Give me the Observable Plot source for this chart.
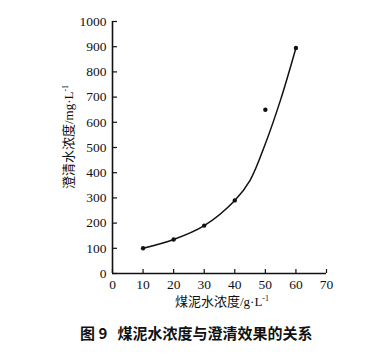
<!DOCTYPE html>
<html><head><meta charset="utf-8">
<script src="https://cdn.jsdelivr.net/npm/d3@7"></script>
<script src="https://cdn.jsdelivr.net/npm/@observablehq/plot@0.6"></script>
<style>
body{margin:0;background:#fff;}
#cap{font-family:"Noto Sans CJK SC",sans-serif;font-weight:bold;font-size:15px;position:absolute;left:80px;top:322px;white-space:pre;color:#111;}
</style></head><body>
<div id="chart"></div>
<div id="cap">图 9   煤泥水浓度与澄清效果的关系</div>
<script>
const xPoints = [10, 20, 30, 40, 50, 60];
const yPoints = [100, 135, 190, 290, 650, 895];
const xCurve = [10, 20, 30, 40, 45, 50, 55, 60];
const yCurve = [100, 135, 190, 290, 370, 515, 690, 895];
const xTicks = [0, 10, 20, 30, 40, 50, 60, 70];
const yTicks = [0, 100, 200, 300, 400, 500, 600, 700, 800, 900, 1000];

const pts = xPoints.map((x, i) => ({x, y: yPoints[i]}));
const curve = xCurve.map((x, i) => ({x, y: yCurve[i]}));

const font = '"Liberation Serif","Noto Sans CJK SC",serif';
const plot = Plot.plot({
  width: 390, height: 315,
  marginLeft: 112, marginRight: 64, marginTop: 21, marginBottom: 42,
  style: {fontFamily: font, fontSize: "13.5px", color: "#111", background: "#fff"},
  x: {domain: [0, 70]},
  y: {domain: [0, 1000]},
  marks: [
    Plot.axisX({ticks: xTicks, tickFormat: "d", tickSize: -4, tickPadding: 10, label: null, stroke: "#111", strokeWidth: 1.2}),
    Plot.axisY({ticks: yTicks, tickFormat: "d", tickSize: -5, tickPadding: 11, label: null, stroke: "#111", strokeWidth: 1.2}),
    Plot.ruleX([0], {stroke: "#111", strokeWidth: 1.6}),
    Plot.ruleY([0], {stroke: "#111", strokeWidth: 1.6}),
    Plot.line(curve, {x: "x", y: "y", curve: "catmull-rom", stroke: "#111", strokeWidth: 1.5}),
    Plot.dot(pts, {x: "x", y: "y", r: 2.2, fill: "#111", stroke: "none"})
  ]
});
const svg = d3.select(plot);
svg.append("text")
  .attr("transform", "translate(73,137) rotate(-90)")
  .attr("text-anchor", "middle")
  .style("font-family", font).style("font-size", "13px").attr("fill", "#111")
  .html('澄清水浓度/mg·L<tspan dy="-5" font-size="8">-1</tspan>');
svg.append("text")
  .attr("x", 222).attr("y", 306)
  .attr("text-anchor", "middle")
  .style("font-family", font).style("font-size", "13px").attr("fill", "#111")
  .html('煤泥水浓度/g·L<tspan dy="-5" font-size="8">-1</tspan>');
document.getElementById("chart").appendChild(plot);
</script>
</body></html>
